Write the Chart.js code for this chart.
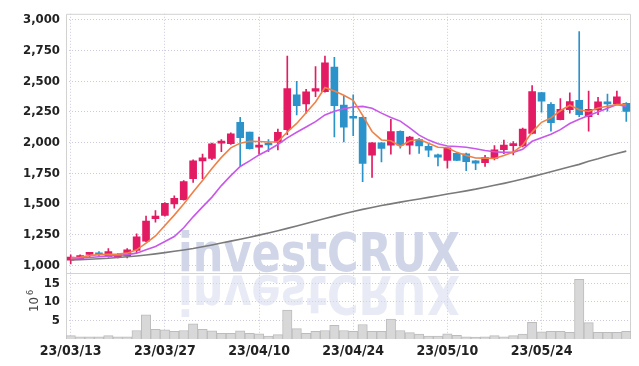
<!DOCTYPE html>
<html>
<head>
<meta charset="utf-8">
<script src="https://cdn.jsdelivr.net/npm/chart.js@4"></script>
<style>
  html, body { margin: 0; padding: 0; background: #fff; }
</style>
</head>
<body>
<canvas id="c" width="639" height="366"></canvas>
<script>
const dates = [
  '23/03/13','23/03/14','23/03/15','23/03/16','23/03/17','23/03/20','23/03/21','23/03/22','23/03/23','23/03/24',
  '23/03/27','23/03/28','23/03/29','23/03/30','23/03/31','23/04/03','23/04/04','23/04/05','23/04/06','23/04/07',
  '23/04/10','23/04/11','23/04/12','23/04/13','23/04/14','23/04/17','23/04/18','23/04/19','23/04/20','23/04/21',
  '23/04/24','23/04/25','23/04/26','23/04/27','23/04/28','23/05/02','23/05/03','23/05/04','23/05/08','23/05/09',
  '23/05/10','23/05/11','23/05/12','23/05/15','23/05/16','23/05/17','23/05/18','23/05/19','23/05/22','23/05/23',
  '23/05/24','23/05/25','23/05/26','23/05/30','23/05/31','23/06/01','23/06/02','23/06/05','23/06/07','23/06/08'
];
const shownDates = ['23/03/13', '23/03/27', '23/04/10', '23/04/24', '23/05/10', '23/05/24'];

const openP = [1040,1050,1088,1090,1070,1070,1075,1120,1195,1380, 1405,1500,1535,1705,1850,1870,1995,1990,2165,2085,
  1963,1985,2003,2105,2390,2315,2420,2415,2615,2305, 2205,2205,1898,1998,1978,2092,1978,2025,1970,1900,
  1855,1912,1908,1850,1835,1870,1942,1975,1972,2075, 2408,2312,2186,2268,2344,2210,2267,2325,2315,2320];
const highP = [1085,1085,1105,1110,1135,1095,1135,1255,1400,1445, 1510,1565,1690,1858,1905,1995,2025,2080,2205,2085,
  2045,2025,2110,2705,2500,2435,2620,2705,2695,2380, 2390,2210,2000,2000,2190,2095,2050,2035,1990,1905,
  1960,1915,1915,1852,1895,1975,2020,2008,2118,2465, 2410,2325,2358,2405,2905,2420,2368,2395,2420,2325];
const lowP = [1010,1045,1070,1070,1065,1060,1060,1100,1190,1350, 1400,1465,1530,1675,1705,1860,1925,1985,1810,1945,
  1905,1925,1940,2065,2225,2240,2375,2410,2045,2005, 2057,1680,1715,1842,1905,1955,1905,1912,1885,1810,
  1790,1852,1770,1778,1805,1858,1910,1900,1965,2070, 2248,2092,2185,2240,2210,2092,2228,2255,2312,2172];
const closeP = [1065,1078,1100,1085,1110,1075,1125,1230,1360,1400, 1505,1545,1682,1850,1875,1990,2000,2072,2040,1950,
  1978,1980,2083,2440,2300,2413,2440,2650,2300,2125, 2198,1830,1998,1952,2090,1978,2045,1972,1937,1880,
  1956,1855,1845,1832,1878,1940,1980,1982,2110,2415, 2338,2162,2270,2335,2228,2270,2332,2315,2373,2253];

const ma5 = [1058,1064,1078,1086,1088,1090,1098,1125,1180,1238, 1324,1408,1498,1596,1691,1788,1879,1957,1995,2010,
  2008,2004,2006,2086,2156,2243,2331,2449,2421,2386, 2345,2221,2090,2021,2014,1970,2013,2027,1994,1962,
  1958,1920,1895,1874,1873,1870,1895,1922,1978,2085, 2165,2201,2259,2304,2267,2253,2281,2296,2309,2309];
const ma20 = [1053,1058,1063,1069,1074,1080,1086,1098,1126,1153, 1193,1233,1305,1394,1475,1555,1649,1730,1805,1850,
  1899,1939,1984,2038,2084,2127,2170,2225,2255,2275, 2290,2295,2280,2240,2205,2175,2120,2060,2020,1990,
  1972,1968,1962,1950,1935,1925,1920,1920,1945,2010, 2040,2068,2105,2155,2190,2220,2250,2280,2310,2295];
const maLong = [1042,1045,1048,1052,1056,1062,1068,1075,1083,1092, 1102,1113,1124,1136,1150,1165,1180,1196,1212,1228,
  1245,1263,1281,1300,1320,1340,1360,1380,1400,1420, 1438,1455,1470,1486,1500,1514,1527,1540,1553,1566,
  1580,1593,1606,1620,1636,1651,1667,1684,1702,1722, 1742,1762,1782,1802,1822,1848,1868,1890,1910,1930];

const volume = [0.9,0.6,0.6,0.6,0.9,0.6,0.6,2.3,6.5,2.6, 2.5,2.1,2.3,4.1,2.6,2.2,1.5,1.5,2.2,1.5,
  1.4,0.8,1.2,7.8,2.8,1.5,2.1,2.3,3.7,2.3, 2.1,3.9,2.1,2.1,5.4,2.3,1.7,1.3,0.8,0.8,
  1.4,1.0,0.6,0.5,0.6,0.9,0.6,0.9,1.3,4.5, 1.9,2.1,2.1,1.8,16.1,4.4,1.8,1.8,1.8,2.1];

const priceTicks = [1000, 1250, 1500, 1750, 2000, 2250, 2500, 2750, 3000];
const volTicks = [5, 10, 15];

const UP = '#e31b63';
const DOWN = '#2b93c9';
const GRID = '#c9cce0';
const FONT = '"DejaVu Sans Condensed", "Liberation Sans Narrow", "Liberation Sans", sans-serif';

const candleColors = closeP.map((c, i) => c >= openP[i] ? UP : DOWN);

// watermark, panel frame and the 10^6 unit label
const decor = {
  id: 'decor',
  beforeDatasetsDraw(chart) {
    const { ctx, chartArea: a, scales } = chart;
    const sep = scales.y2.top;
    ctx.save();
    ctx.font = 'bold 54px "DejaVu Sans"';
    const sx = 282 / ctx.measureText('investCRUX').width;
    ctx.save();
    ctx.translate(178, sep - 2);
    ctx.scale(sx, 1);
    ctx.fillStyle = '#d0d6e8';
    ctx.fillText('investCRUX', 0, 0);
    ctx.restore();
    ctx.save();
    ctx.beginPath();
    ctx.rect(a.left, sep, a.right - a.left, a.bottom - sep);
    ctx.clip();
    ctx.translate(178, sep + 3);
    ctx.scale(sx, -1);
    ctx.fillStyle = 'rgba(214,217,238,0.55)';
    ctx.fillText('investCRUX', 0, 0);
    ctx.restore();

    ctx.strokeStyle = '#d2d2d2';
    ctx.lineWidth = 1;
    ctx.beginPath();
    ctx.moveTo(a.left + 0.5, a.bottom);
    ctx.lineTo(a.left + 0.5, a.top + 0.5);
    ctx.lineTo(a.right - 0.5, a.top + 0.5);
    ctx.lineTo(a.right - 0.5, a.bottom);
    ctx.moveTo(a.left, Math.round(sep) + 0.5);
    ctx.lineTo(a.right, Math.round(sep) + 0.5);
    ctx.stroke();
    ctx.restore();
  },
  afterDraw(chart) {
    const { ctx } = chart;
    ctx.save();
    ctx.translate(38, 312);
    ctx.rotate(-Math.PI / 2);
    ctx.fillStyle = '#444';
    ctx.font = '13px ' + FONT;
    ctx.fillText('10', 0, 0);
    const w = ctx.measureText('10').width;
    ctx.font = '9px ' + FONT;
    ctx.fillText('6', w + 2, -5);
    ctx.restore();
  }
};

new Chart(document.getElementById('c'), {
  type: 'bar',
  data: {
    labels: dates,
    datasets: [
      { type: 'line', data: ma5, yAxisID: 'y', borderColor: '#ef8148', borderWidth: 1.6, pointRadius: 0, order: 0 },
      { type: 'line', data: ma20, yAxisID: 'y', borderColor: '#c957ea', borderWidth: 1.6, pointRadius: 0, order: 0 },
      { type: 'line', data: maLong, yAxisID: 'y', borderColor: '#7a7a7a', borderWidth: 1.6, pointRadius: 0, order: 0 },
      { data: openP.map((o, i) => [o, closeP[i]]), yAxisID: 'y', backgroundColor: candleColors,
        barThickness: 7, minBarLength: 2, grouped: false, order: 1 },
      { data: highP.map((h, i) => [lowP[i], h]), yAxisID: 'y', backgroundColor: candleColors,
        barThickness: 1, grouped: false, order: 2 },
      { data: volume, yAxisID: 'y2', backgroundColor: '#d8d8d8', borderColor: '#bcbcbc', borderWidth: 1,
        barPercentage: 1, categoryPercentage: 1, grouped: false, order: 3 }
    ]
  },
  options: {
    responsive: false,
    animation: false,
    layout: { padding: { left: 0, right: 8, top: 9, bottom: 0 } },
    plugins: { legend: { display: false }, tooltip: { enabled: false } },
    scales: {
      x: {
        grid: {
          offset: false,
          drawTicks: false,
          color: c => shownDates.includes(dates[c.index]) ? GRID : 'rgba(0,0,0,0)'
        },
        border: { display: false, dash: [1, 2] },
        ticks: {
          autoSkip: false,
          maxRotation: 0,
          padding: 4,
          color: '#222',
          font: { family: FONT, size: 14, weight: 'bold' },
          callback: (v, i) => shownDates.includes(dates[i]) ? dates[i] : ''
        },
        afterFit: s => { s.height = 27; }
      },
      y2: {
        position: 'left',
        stack: 'p',
        stackWeight: 66.5,
        min: 0,
        max: 17.7,
        grid: { color: GRID, drawTicks: false },
        border: { display: false, dash: [1, 2] },
        ticks: {
          autoSkip: false,
          padding: 6,
          color: '#222',
          font: { family: FONT, size: 13, weight: 'bold' }
        },
        afterBuildTicks: s => { s.ticks = volTicks.map(v => ({ value: v })); },
        afterFit: s => { s.width = 66; }
      },
      y: {
        position: 'left',
        stack: 'p',
        stackWeight: 263,
        min: 933,
        max: 3050,
        grid: { color: GRID, drawTicks: false },
        border: { display: false, dash: [1, 2] },
        ticks: {
          autoSkip: false,
          padding: 6,
          color: '#222',
          font: { family: FONT, size: 13, weight: 'bold' },
          callback: v => v.toLocaleString('en-US')
        },
        afterBuildTicks: s => { s.ticks = priceTicks.map(v => ({ value: v })); },
        afterFit: s => { s.width = 66; }
      }
    }
  },
  plugins: [decor]
});
</script>
</body>
</html>
